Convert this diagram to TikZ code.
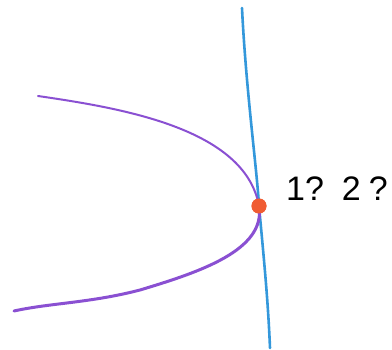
\documentclass[tikz,border=0pt]{standalone}
\usepackage{fontspec}
\setmainfont{Liberation Sans}
\definecolor{MyBlue}{RGB}{52, 152, 219}
\definecolor{MyPurple}{RGB}{138, 80, 210}
\definecolor{MyOrange}{RGB}{240, 92, 50}
\begin{document}
\begin{tikzpicture}[
                x=1pt,y=-1pt,
                crv/.style={MyBlue,line width=2.6pt,line cap=round},
                par/.style={MyPurple,line cap=round},
                pt/.style={circle,fill=MyOrange,minimum width=15pt,minimum height=13pt,inner sep=0pt},
                lbl/.style={font=\fontsize{34}{34}\selectfont,inner sep=0pt,anchor=base west}
            ]
                \useasboundingbox (0,0) rectangle (392,350);
                % Meeting point
                \node[pt] (p) at (259,206) {};
                % Blue curve
                \coordinate (btop) at (242,8);
                \coordinate (bbot) at (270,348);
                \draw[crv] (btop) .. controls (246,90) and (257,170) .. (p.center)
                           .. controls (264,260) and (268,300) .. (bbot);
                % Purple parabola
                \coordinate (ptop) at (38,96);
                \coordinate (pbot) at (14,311);
                \draw[par,line width=2pt] (ptop) .. controls (120,108) and (245,128) .. (p.center);
                \draw[par,line width=3pt] (p.center) .. controls (266,250) and (200,272) .. (140,290)
                           .. controls (90,303) and (50,303) .. (pbot);
                \node[pt] at (p.center) {};
                % Label
                \node[lbl] (q) at (286,201) {1?\hspace{18pt}2\hspace{8pt}?};
            \end{tikzpicture}
\end{document}
